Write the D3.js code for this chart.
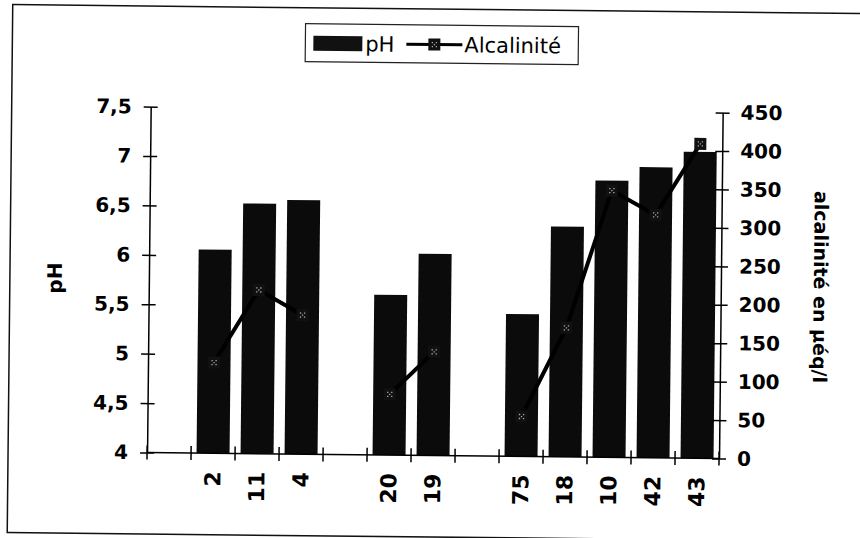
<!DOCTYPE html>
<html>
<head>
<meta charset="utf-8">
<script src="https://cdn.jsdelivr.net/npm/d3@7"></script>
<style>
  html, body { margin: 0; padding: 0; background: #fff; }
  svg { display: block; }
</style>
</head>
<body>
<svg id="chart" width="860" height="538"></svg>
<script>
// ---- data ----
const categories = ["", "2", "11", "4", "", "20", "19", "", "75", "18", "10", "42", "43"];
const phValues   = [null, 6.06, 6.53, 6.57, null, 5.62, 6.04, null, 5.44, 6.33, 6.80, 6.94, 7.10];
const alkValues  = [null, 118, 213, 181, null, 79, 135, null, 52, 168, 347, 316, 409];
const phTicks    = [4, 4.5, 5, 5.5, 6, 6.5, 7, 7.5];
const alkTicks   = [0, 50, 100, 150, 200, 250, 300, 350, 400, 450];
const legendLabels = ["pH", "Alcalinité"];
const leftTitle  = "pH";
const rightTitle = "alcalinité en µéq/l";

// ---- layout ----
const svg = d3.select("#chart");
const root = svg.append("g").attr("transform", "rotate(0.6,430,269)");

const x0 = 149, x1 = 721, yBottom = 455.5, yTop = 109.5;
const FONT = "'DejaVu Sans', sans-serif";

const xBand = d3.scaleBand().domain(d3.range(categories.length)).range([x0, x1]).paddingInner(0).paddingOuter(0);
const yPh = d3.scaleLinear().domain([4, 7.5]).range([yBottom, yTop]);
const yAlk = d3.scaleLinear().domain([0, 450]).range([yBottom, yTop]);

// frame
root.append("rect").attr("x", 10).attr("y", 9).attr("width", 900).attr("height", 528)
  .attr("fill", "none").attr("stroke", "#111").attr("stroke-width", 1.5);

// bars
const barW = xBand.bandwidth() * 0.75;
root.append("g").selectAll("rect")
  .data(d3.range(categories.length).filter(i => phValues[i] != null))
  .join("rect")
  .attr("x", i => xBand(i) + (xBand.bandwidth() - barW) / 2)
  .attr("width", barW)
  .attr("y", i => yPh(phValues[i]))
  .attr("height", i => yPh(4) - yPh(phValues[i]))
  .attr("fill", "#0b0b0b");

// x axis (category boundary ticks crossing the line)
const boundaries = d3.range(categories.length + 1).map(i => i < categories.length ? xBand(i) : x1);
const xAxisG = root.append("g");
xAxisG.append("line").attr("x1", x0).attr("x2", x1).attr("y1", yBottom).attr("y2", yBottom)
  .attr("stroke", "#000").attr("stroke-width", 1.5);
xAxisG.selectAll("line.tk").data(boundaries).join("line").attr("class", "tk")
  .attr("x1", d => d).attr("x2", d => d).attr("y1", yBottom - 7).attr("y2", yBottom + 7)
  .attr("stroke", "#000").attr("stroke-width", 1.5);

// x labels via band axis
const xAxis = d3.axisBottom(xBand).tickSize(0).tickFormat(i => categories[i]);
const xg = root.append("g").attr("transform", `translate(0,${yBottom})`).call(xAxis);
xg.select(".domain").remove();
xg.selectAll("text")
  .attr("font-family", FONT).attr("font-weight", "bold").attr("font-size", 22).attr("fill", "#000")
  .attr("text-anchor", "end").attr("dy", null).attr("y", null)
  .attr("dominant-baseline", "central")
  .attr("transform", "translate(0,18) rotate(-90)");

// left axis
const leftAxis = d3.axisLeft(yPh).tickValues(phTicks).tickSize(7).tickSizeOuter(0).tickPadding(12)
  .tickFormat(d => String(d).replace(".", ","));
const lg = root.append("g").attr("transform", `translate(${x0},0)`).call(leftAxis);
lg.select(".domain").attr("stroke", "#000").attr("stroke-width", 1.5);
lg.selectAll(".tick line").attr("x1", 7).attr("x2", -7).attr("stroke", "#000").attr("stroke-width", 1.5);
lg.selectAll(".tick text").attr("font-family", FONT).attr("font-weight", "bold").attr("font-size", 20).attr("fill", "#000");

// right axis
const rightAxis = d3.axisRight(yAlk).tickValues(alkTicks).tickSize(7).tickSizeOuter(0).tickPadding(11);
const rg = root.append("g").attr("transform", `translate(${x1},0)`).call(rightAxis);
rg.select(".domain").attr("stroke", "#000").attr("stroke-width", 1.5);
rg.selectAll(".tick line").attr("x1", -7).attr("x2", 7).attr("stroke", "#000").attr("stroke-width", 1.5);
rg.selectAll(".tick text").attr("font-family", FONT).attr("font-weight", "bold").attr("font-size", 20).attr("fill", "#000");

// alkalinity line
const cx = i => xBand(i) + xBand.bandwidth() / 2;
const line = d3.line().defined(i => alkValues[i] != null).x(i => cx(i)).y(i => yAlk(alkValues[i]));
root.append("path").datum(d3.range(categories.length))
  .attr("d", line).attr("fill", "none").attr("stroke", "#000").attr("stroke-width", 4)
  .attr("stroke-linejoin", "round");

function marker(g, x, y) {
  g.append("rect").attr("x", x - 6).attr("y", y - 6).attr("width", 12).attr("height", 12).attr("fill", "#111");
  [[-2, -2], [2, -2], [0, 0], [-2, 2], [2, 2]].forEach(([dx, dy]) =>
    g.append("rect").attr("x", x + dx - 0.6).attr("y", y + dy - 0.6).attr("width", 1.3).attr("height", 1.3).attr("fill", "#aaa"));
}
const mg = root.append("g");
d3.range(categories.length).filter(i => alkValues[i] != null).forEach(i => marker(mg, cx(i), yAlk(alkValues[i])));

// axis titles
root.append("text").text(leftTitle)
  .attr("transform", "translate(55,282) rotate(-90)")
  .attr("text-anchor", "middle").attr("dominant-baseline", "central")
  .attr("font-family", FONT).attr("font-weight", "bold").attr("font-size", 20).attr("fill", "#000");
root.append("text").text(rightTitle)
  .attr("transform", "translate(821,283) rotate(90)")
  .attr("text-anchor", "middle").attr("dominant-baseline", "central")
  .attr("font-family", FONT).attr("font-weight", "bold").attr("font-size", 19).attr("fill", "#000");

// legend
const leg = root.append("g");
leg.append("rect").attr("x", 303).attr("y", 25).attr("width", 273).attr("height", 38)
  .attr("fill", "#fff").attr("stroke", "#222").attr("stroke-width", 1.2);
leg.append("rect").attr("x", 311).attr("y", 37).attr("width", 49).attr("height", 15).attr("fill", "#111");
leg.append("text").text(legendLabels[0]).attr("x", 363).attr("y", 52)
  .attr("font-family", FONT).attr("font-size", 21).attr("fill", "#000");
leg.append("line").attr("x1", 404).attr("x2", 460).attr("y1", 44.5).attr("y2", 44.5)
  .attr("stroke", "#000").attr("stroke-width", 3);
marker(leg, 432, 44.5);
leg.append("text").text(legendLabels[1]).attr("x", 462).attr("y", 52)
  .attr("font-family", FONT).attr("font-size", 21).attr("fill", "#000");
</script>
</body>
</html>
